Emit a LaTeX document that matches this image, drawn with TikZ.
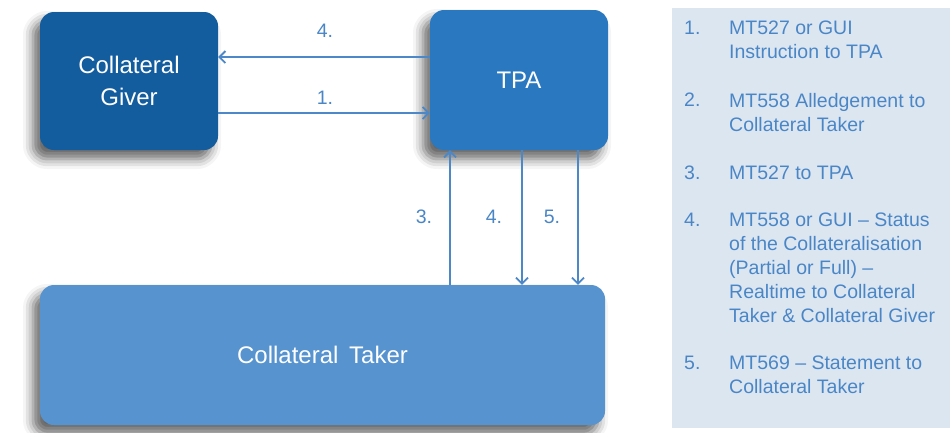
\documentclass[tikz,border=0pt]{standalone}
\usepackage{fontspec}
\setmainfont{Liberation Sans}
\usepackage{xcolor}
\definecolor{giverc}{HTML}{135C9E}
\definecolor{tpac}{HTML}{2A79C0}
\definecolor{takerc}{HTML}{5693CF}
\definecolor{panel}{HTML}{DCE6F1}
\definecolor{flow}{HTML}{4C87C7}
\definecolor{legtxt}{HTML}{4A86C6}
\usetikzlibrary{arrows.meta,shadows.blur}
\tikzset{
  >={Straight Barb[length=6pt,width=12pt]},
  box/.style={rounded corners=14pt,inner sep=0pt,text=white,align=center,
    font=\fontsize{24}{32}\selectfont,
    blur shadow={shadow xshift=-7pt,shadow yshift=-9pt,shadow blur radius=10pt,shadow opacity=60}},
  arr/.style={draw=flow,line width=1.8pt},
  lab/.style={font=\fontsize{19.5}{24}\selectfont,text=legtxt,inner sep=0pt},
  itm/.style={lab,anchor=north west,align=left},
}
\begin{document}
\begin{tikzpicture}[x=1pt,y=-1pt]
\useasboundingbox (0,0) rectangle (950,432);
% boxes
\node[box,fill=giverc,minimum width=178pt,minimum height=138pt] (giver) at (129,81) {Collateral\\Giver};
\node[box,fill=tpac,minimum width=178pt,minimum height=140pt] (tpa) at (519,80) {TPA};
\node[box,fill=takerc,minimum width=565pt,minimum height=140pt] (taker) at (322.5,355) {Collateral\, Taker};
% flows between giver and TPA
\draw[arr,->] (tpa.west |- 0,57) -- (giver.east |- 0,57);
\draw[arr,->] (giver.east |- 0,113) -- (tpa.west |- 0,113);
\node[lab] (h4) at (325,31) {4.};
\node[lab] (h1) at (325,98) {1.};
% flows between TPA and taker
\foreach \x/\lx/\n/\tip in {450/424/3/<-,522/494/4/->,578/552/5/->}{
  \draw[arr,\tip] (tpa.south -| \x,0) -- (taker.north -| \x,0);
  \node[lab] (v\n) at (\lx,217) {\n.};
}
% legend
\fill[panel] (672,8) rectangle (950,428);
\foreach \n/\y/\t in {1/21/{MT527 or GUI\\Instruction to TPA},
    2/93/{MT558 Alledgement to\\Collateral Taker},
    3/166/{MT527 to TPA},
    4/213/{MT558 or GUI – Status\\of the Collateralisation\\(Partial or Full) –\\Realtime to Collateral\\Taker \& Collateral Giver},
    5/356/{MT569 – Statement to\\Collateral Taker}}{
  \node[itm] (num\n) at (684,\y) {\n.};
  \node[itm] (item\n) at (729,\y) {\t};
}
\end{tikzpicture}
\end{document}
